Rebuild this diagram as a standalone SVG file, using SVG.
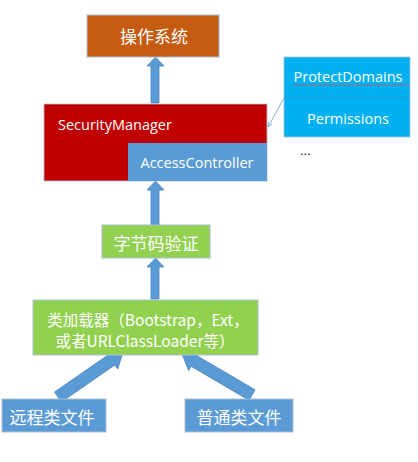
<svg xmlns="http://www.w3.org/2000/svg" width="418" height="462" viewBox="0 0 418 462">
<style>
.box{stroke:#a9bfd6;stroke-width:1}
.cn{font-family:"Noto Sans CJK SC","Noto Sans",sans-serif;fill:#fff;text-anchor:middle;dominant-baseline:central}
.en{font-family:"Open Sans","Liberation Sans",Arial,sans-serif;fill:#fff;text-anchor:middle;dominant-baseline:central;font-size:14.5px}
.blk{fill:#5b9bd5;stroke:#4a86c0;stroke-width:0.8}
</style>
<defs>
<marker id="ah" viewBox="0 0 10 10" refX="9" refY="5" markerWidth="7" markerHeight="7" orient="auto"><path d="M0,1 L9,5 L0,9" fill="none" stroke="#5b9bd5" stroke-width="1.2"/></marker>
</defs>
<rect width="418" height="462" fill="#fff"/>
<g id="connectors">
<polygon class="blk" points="151,103 151,66 147,66 155.5,57 164,66 159,66 159,103"/>
<polygon class="blk" points="151,225 151,190 147,190 155.5,181 164,190 159,190 159,225"/>
<polygon class="blk" points="151,299 151,267 147,267 155.5,258 164,267 159,267 159,299"/>
<polygon class="blk" transform="translate(58,397) rotate(-34.7)" points="0,-6 65,-6 65,-11 79,0 65,11 65,6 0,6"/>
<polygon class="blk" transform="translate(252,395) rotate(-149.6)" points="0,-6 67,-6 67,-11 81,0 67,11 67,6 0,6"/>
<line x1="284" y1="98" x2="268" y2="127" stroke="#5b9bd5" stroke-width="0.8" marker-end="url(#ah)"/>
</g>
<g id="os">
<rect class="box" x="87" y="15" width="132" height="42" fill="#c55a11"/>
<text class="cn" x="154" y="35" font-size="17">操作系统</text>
</g>
<g id="securitymanager">
<rect x="44" y="104" width="223" height="77" fill="#c00000" stroke="#a9bfd6" stroke-width="0.8"/>
<text class="en" x="58" y="124" style="text-anchor:start">SecurityManager</text>
</g>
<g id="accesscontroller">
<rect x="128" y="143" width="139" height="38" fill="#5b9bd5"/>
<text class="en" x="197" y="162">AccessController</text>
</g>
<g id="protect">
<rect x="284" y="57" width="126" height="80" fill="#00b0f0" stroke="#a9bfd6" stroke-width="0.8"/>
<line x1="284" y1="97" x2="410" y2="97" stroke="#2fa0d8" stroke-width="0.8"/>
<text class="en" x="348" y="76">ProtectDomains</text>
<path d="M293,85 q1,-1 2,0 t2,0 t2,0 t2,0 t2,0 t2,0 t2,0 t2,0 t2,0 t2,0 t2,0 t2,0 t2,0 t2,0 t2,0 t2,0 t2,0 t2,0 t2,0 t2,0 t2,0 t2,0 t2,0 t2,0 t2,0 t2,0 t2,0 t2,0 t2,0 t2,0 t2,0 t2,0 t2,0 t2,0 t2,0 t2,0 t2,0 t2,0 t2,0 t2,0 t2,0 t2,0 t2,0 t2,0 t2,0 t2,0 t2,0 t2,0 t2,0 t2,0 t2,0 t2,0 t2,0 t2,0 t2,0 t2,0 t2,0 t2,0" fill="none" stroke="#e05050" stroke-width="0.7"/>
<text class="en" x="348" y="118">Permissions</text>
</g>
<g id="ellipsis">
<text x="300" y="155" font-family="Liberation Sans,Arial,sans-serif" font-size="13" fill="#000">...</text>
</g>
<g id="bytecode">
<rect class="box" x="102" y="225" width="108" height="33" fill="#92d050"/>
<text class="cn" x="156" y="242" font-size="17">字节码验证</text>
</g>
<g id="classloader">
<rect class="box" x="33" y="300" width="225" height="55" fill="#92d050"/>
<text class="cn" x="148" y="319" font-size="15.5">类加载器（Bootstrap，Ext，</text>
<text class="cn" x="145" y="340" font-size="15.5">或者URLClassLoader等）</text>
</g>
<g id="remote">
<rect class="box" x="2" y="399" width="104" height="33" fill="#5b9bd5"/>
<text class="cn" x="52" y="416" font-size="17">远程类文件</text>
</g>
<g id="local">
<rect class="box" x="185" y="399" width="108" height="33" fill="#5b9bd5"/>
<text class="cn" x="239" y="416" font-size="17">普通类文件</text>
</g>
</svg>
